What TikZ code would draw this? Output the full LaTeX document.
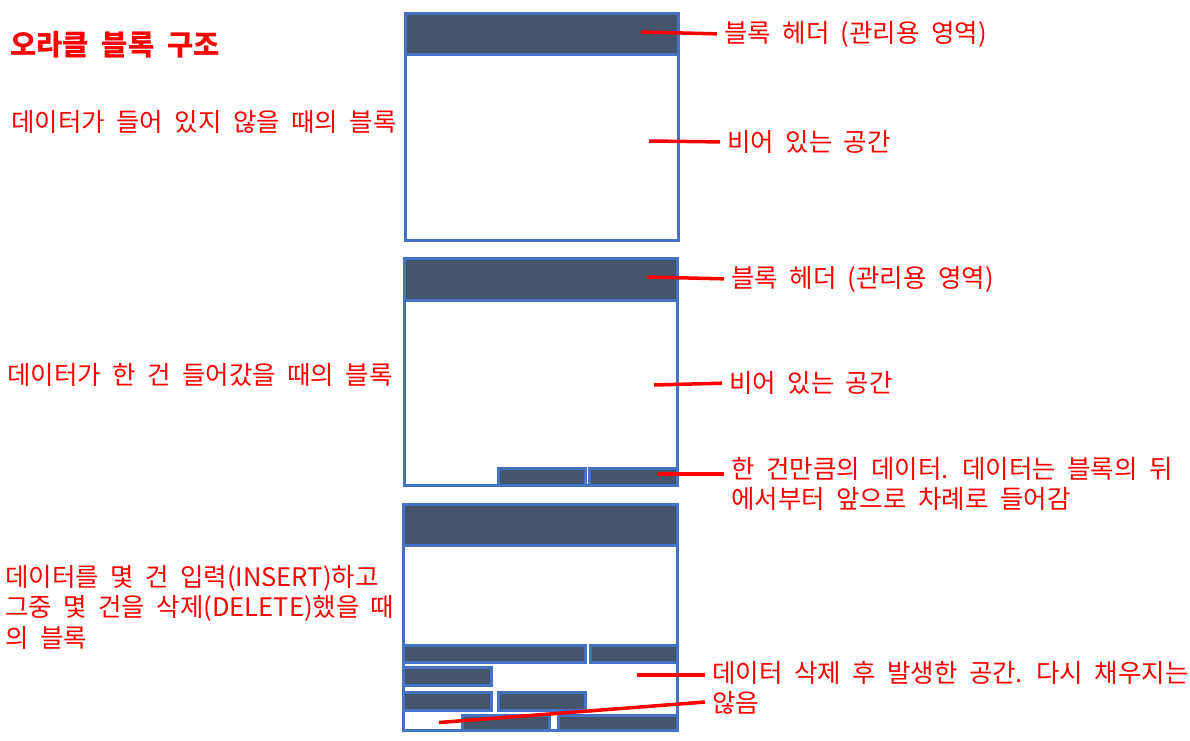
\documentclass[tikz,border=0pt]{standalone}
\usepackage{fontspec}
\setmainfont{Noto Sans CJK KR}[WordSpace=2]

\definecolor{blkblue}{HTML}{4472C4}
\definecolor{hdrgray}{HTML}{44546A}

\begin{document}
\begin{tikzpicture}[x=1pt,y=-1pt,
    blk/.style={draw=blkblue,line width=3pt},
    hdr/.style={draw=blkblue,fill=hdrgray,line width=3pt},
    lbl/.style={text=red,inner sep=0pt,anchor=west,font=\fontsize{25.5}{30.5}\selectfont},
    callout/.style={red,line width=3.5pt,shorten >=7pt}]
    \useasboundingbox (0,0) rectangle (1190,740);

    % Title
    \node[lbl,font=\fontsize{28.5}{30}\selectfont\bfseries] (title) at (10,45) {오라클 블록 구조};

    % Block captions (left)
    \node[lbl] (capA) at (11,122) {데이터가 들어 있지 않을 때의 블록};
    \node[lbl] (capB) at (7,375) {데이터가 한 건 들어갔을 때의 블록};
    \node[lbl,align=left,anchor=north west] (capC) at (5,565)
        {데이터를 몇 건 입력(INSERT)하고\\그중 몇 건을 삭제(DELETE)했을 때\\의 블록};

    % Empty block
    \draw[blk] (405.5,13.5) rectangle (678,240.5);
    \draw[hdr] (405.5,13.5) rectangle (678,54.5);

    % Block with one row
    \draw[blk] (404.5,258.5) rectangle (677,485.5);
    \draw[hdr] (404.5,258.5) rectangle (677,300);
    \foreach \xa/\ya/\xb/\yb in {498.5/468.5/585.5/485.5, 589.5/468.5/677/485.5}
        \draw[hdr] (\xa,\ya) rectangle (\xb,\yb);

    % Block after insert and delete
    \draw[blk] (403.5,504.5) rectangle (677.5,730.5);
    \draw[hdr] (403.5,504.5) rectangle (677.5,545.5);
    \foreach \xa/\ya/\xb/\yb in {403.5/645.5/585.5/662.5, 590.5/645.5/677.5/662.5,
                                 403.5/667.5/491.5/685.5,
                                 403.5/692.5/491.5/710.5, 498.5/692.5/585.5/710.5,
                                 462.5/715.5/549.5/730.5, 558.5/715.5/677.5/730.5}
        \draw[hdr] (\xa,\ya) rectangle (\xb,\yb);

    % Right labels
    \node[lbl] (hdrA) at (724,34) {블록 헤더 (관리용 영역)};
    \node[lbl] (freeA) at (727,142) {비어 있는 공간};
    \node[lbl] (hdrB) at (731,279) {블록 헤더 (관리용 영역)};
    \node[lbl] (freeB) at (729,383) {비어 있는 공간};
    \node[lbl,align=left,anchor=north west] (rowB) at (731,457)
        {한 건만큼의 데이터. 데이터는 블록의 뒤\\에서부터 앞으로 차례로 들어감};
    \node[lbl,align=left,anchor=north west] (delC) at (712,661)
        {데이터 삭제 후 발생한 공간. 다시 채우지는\\않음};

    % Callout lines
    \coordinate (hdrApt) at (641,32);
    \coordinate (freeApt) at (649,141);
    \coordinate (hdrBpt) at (647,277);
    \coordinate (freeBpt) at (654,385);
    \coordinate (rowBpt) at (657,474);
    \coordinate (delCpt) at (637,675);
    \coordinate (gapCpt) at (439,722.5);
    \coordinate (gapCend) at (705,702);
    \draw[callout] (hdrApt) -- (hdrA.west);
    \draw[callout] (freeApt) -- (freeA.west);
    \draw[callout] (hdrBpt) -- (hdrB.west);
    \draw[callout] (freeBpt) -- (freeB.west);
    \draw[callout] (rowBpt) -- (rowBpt -| rowB.west);
    \draw[callout] (delCpt) -- (delCpt -| delC.west);
    \draw[callout,shorten >=0pt] (gapCpt) -- (gapCend);
\end{tikzpicture}
\end{document}
